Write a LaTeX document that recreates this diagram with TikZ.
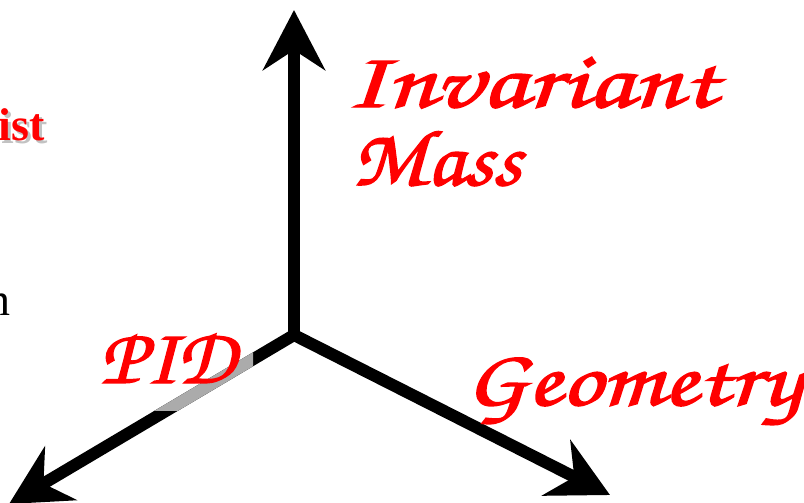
\documentclass[tikz,border=0pt]{standalone}
\usepackage{fontspec}
\setmainfont{Liberation Serif}
\newfontfamily\hwfont[AutoFakeBold=1.8]{TeX Gyre Chorus}
\usetikzlibrary{arrows.meta}
\definecolor{axred}{RGB}{255,0,0}
\tikzset{
  axis/.style={line width=12pt, -{Stealth[length=60pt,width=62pt,inset=20pt]}},
  lbl/.style={text=axred, font=\hwfont\bfseries\fontsize{80}{80}\selectfont, inner sep=0pt, anchor=base west}
}
\begin{document}
\begin{tikzpicture}[x=1pt,y=-1pt]
\useasboundingbox (0,0) rectangle (804,503);
\coordinate (o) at (294,335);
\coordinate (up) at (294,10);
\coordinate (lt) at (9,504);
\coordinate (rt) at (610,495);
\draw[axis] (o) -- (up);
\draw[axis] (o) -- (lt);
\draw[axis] (o) -- (rt);
\begin{scope}
\clip (100,330) rectangle (253,410);
\draw[line width=12pt, color=black!33] (o) -- (lt);
\end{scope}
\node[lbl, xscale=1.35] (inv) at (345,107) {Invariant};
\node[lbl, xscale=1.11] (mass) at (352,185) {Mass};
\node[lbl, xscale=1.04] (pid) at (100,383) {PID};
\node[lbl, xscale=1.25] (geo) at (465,405) {Geometry};
\node[inner sep=0pt, anchor=base east, text=black!40, opacity=0.6, font=\bfseries\fontsize{46}{46}\selectfont] at (48,143) {ist};
\node[inner sep=0pt, anchor=base east, text=axred, font=\bfseries\fontsize{46}{46}\selectfont] (ist) at (45,140) {ist};
\node[inner sep=0pt, anchor=base east, text=black, font=\fontsize{46}{46}\selectfont] (n) at (11,315) {n};
\end{tikzpicture}
\end{document}
